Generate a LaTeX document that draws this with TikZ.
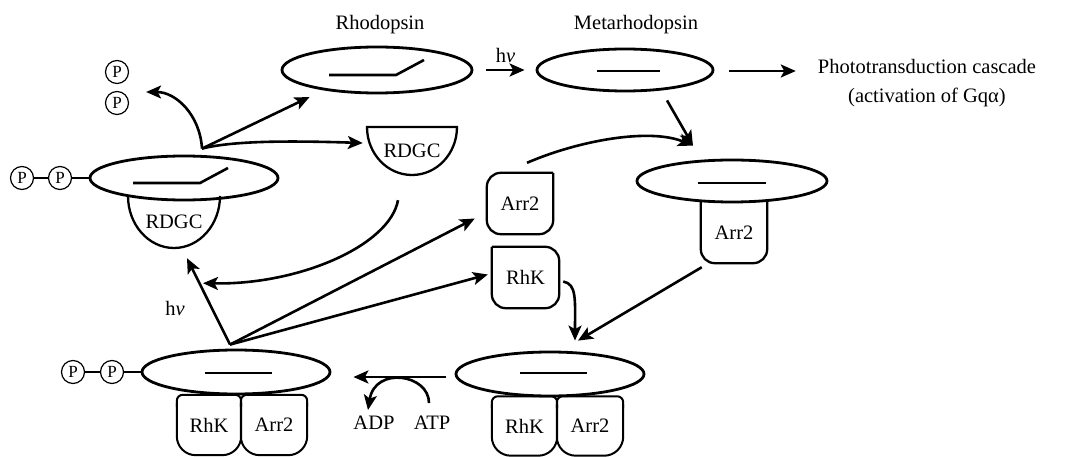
\documentclass[tikz,border=0pt]{standalone}
\usepackage{fontspec}
\setmainfont{Liberation Serif}
\usetikzlibrary{shapes.geometric,arrows.meta,calc}

\tikzset{
  disc/.style={draw, ellipse, line width=2.8pt, minimum width=188pt, minimum height=44pt, inner sep=0pt},
  bead/.style={draw, circle, line width=1.2pt, minimum size=23pt, inner sep=0pt, font=\fontsize{17}{17}\selectfont},
  pbox/.style={minimum width=66pt, minimum height=61pt, inner sep=0pt},
  arr/.style={-{Stealth[length=15pt,width=13pt,inset=3.5pt]}, line width=2.6pt},
  retinal/.style={line width=2.6pt},
  outline/.style={line width=2.3pt},
  tether/.style={line width=1.2pt}
}

\begin{document}
\begin{tikzpicture}[x=1pt, y=-1pt, font=\fontsize{20.5}{29}\selectfont, every node/.append style={inner sep=2pt}]
\useasboundingbox (0,0) rectangle (1085,457);

% Rhodopsin states (discs)
\node[disc, minimum width=190pt, minimum height=46pt] (rho) at (377,70) {};
\node[disc, minimum width=176pt, minimum height=42pt] (meta) at (625,70) {};
\node[disc] (topL) at (184,178) {};
\node[disc, minimum width=190pt, minimum height=42pt] (metaArr) at (732,181) {};
\node[disc] (botR) at (550,374) {};
\node[disc] (botL) at (236,372) {};

% Chromophores
\draw[retinal] ($(rho)+(-48,5)$) -- ++(67,0) -- ++(28,-15);
\draw[retinal] ($(topL)+(-51,5)$) -- ++(67,0) -- ++(28,-15);
\draw[retinal] ($(meta)+(-28,1)$) -- ++(63,0);
\draw[retinal] ($(metaArr)+(-34,2)$) -- ++(68,0);
\draw[retinal] ($(botR)+(-30,-1)$) -- ++(67,0);
\draw[retinal] ($(botL)+(-31,1)$) -- ++(67,0);

% Titles
\node (rhoLbl) at (380,25) {Rhodopsin};
\node (metaLbl) at (636,25) {Metarhodopsin};
\node[align=center] (casc) at (927,83) {Phototransduction cascade\\(activation of Gqα)};

% RDGC
\node[minimum width=92pt, minimum height=52pt, inner sep=0pt] (rdgcL) at (174,222) {RDGC};
\draw[outline] (128,196) arc[start angle=180, end angle=0, x radius=46, y radius=52];
\node[minimum width=90pt, minimum height=48pt, inner sep=0pt] (rdgcF) at (412,151) {RDGC};
\draw[outline] (457,127) arc[start angle=0, end angle=180, x radius=45, y radius=48] -- cycle;

% Phosphates
\node[bead] (p1) at (22,178) {P};
\node[bead] (p2) at (60,178) {P};
\draw[tether] (p1) -- (p2) (p2) -- (topL.west);
\node[bead] (p3) at (73,372) {P};
\node[bead] (p4) at (112,372) {P};
\draw[tether] (p3) -- (p4) (p4) -- (botL.west);
\node[bead] (p5) at (117,72) {P};
\node[bead] (p6) at (117,103) {P};

% Arrestin and kinase
\node[pbox] (arrF) at (520,203.5) {Arr2};
\draw[outline, rounded corners=14pt] (arrF.north east) -- (arrF.south east) -- (arrF.south west) -- (arrF.north west) -- (arrF.north east);
\node[pbox, minimum width=67pt] (rhkF) at (525.5,277.5) {RhK};
\draw[outline, rounded corners=14pt] (rhkF.north west) -- (rhkF.north east) -- (rhkF.south east) -- (rhkF.south west) -- (rhkF.north west);
\node[pbox] (arrM) at (734,232.5) {Arr2};
\draw[outline, rounded corners=14pt] (arrM.north west) -- (arrM.south west) -- (arrM.south east) -- (arrM.north east);

\node[pbox, minimum width=65pt, minimum height=59pt] (rhkR) at (524.5,426) {RhK};
\node[pbox, minimum height=59pt] (arrR) at (590,426) {Arr2};
\node[pbox, minimum width=64pt, minimum height=60pt] (rhkL) at (209,425) {RhK};
\node[pbox, minimum height=60pt] (arrL) at (274,425) {Arr2};
\foreach \b in {rhkR,arrR,rhkL,arrL}{
  \draw[line width=2pt, rounded corners=19pt] ($(\b.north west)+(0,8)$) -- (\b.south west) -- (\b.south east) -- ($(\b.north east)+(0,8)$);
  \draw[line width=2pt, rounded corners=6pt] ($(\b.north west)+(0,12)$) -- (\b.north west) -- (\b.north east) -- ($(\b.north east)+(0,12)$);
}

% Light and cascade
\draw[arr] ($(rho.east)+(13,0)$) -- node[above=4pt] (hv1) {h{\itshape ν}} ($(meta.west)+(-11,0)$);
\draw[arr] ($(meta.east)+(15,1)$) -- ($(casc.west)+(-20,-12)$);

% Binding of arrestin
\coordinate (mj) at ($(metaArr.north)+(-39,-13)$);
\draw[arr] ($(meta.south)+(42,8)$) -- (mj);
\draw[arr] ($(arrF.north)+(7,-10)$) .. controls (580,140) and (650,128) .. (mj);

% Kinase recruitment
\coordinate (bj) at ($(botR.north)+(28,-10)$);
\draw[arr] ($(arrM.south west)+(1,4)$) -- (bj);
\draw[arr] ($(rhkF.east)+(4,4)$) .. controls (577,284) and (575,300) .. ($(bj)+(-3,0)$);

% Phosphorylation
\node (adp) at (374,423) {ADP};
\node (atp) at (432,423) {ATP};
\draw[arr] ($(botR.west)+(-9,3)$) -- ($(botL.east)+(22,5)$);
\draw[arr] ($(atp.north)+(-3,-11)$) .. controls (429,374) and (375,366) .. ($(adp.north)+(-6,-4)$);

% Photoreconversion
\coordinate (bp) at ($(botL.north)+(-6,-4)$);
\node (hv2) at (175,308) {h{\itshape ν}};
\draw[arr] (bp) -- ($(rdgcL.south)+(13,10)$);
\draw[arr] (bp) -- ($(arrF.west)+(-12,15)$);
\draw[arr] (bp) -- ($(rhkF.west)+(-4,-3)$);
\draw[arr] ($(rdgcF.south)+(-14,25)$) .. controls (390,245) and (300,285) .. ($(rdgcL.south)+(29,35)$);

% Dephosphorylation
\coordinate (tp) at ($(topL.north)+(18,-6)$);
\coordinate (pe) at ($(p6.east)+(17,-11)$);
\draw[arr] (tp) -- ($(rho.west)+(29,27)$);
\draw[arr] (tp) .. controls (235,140) and (300,141) .. ($(rdgcF.west)+(-4,-8)$);
\draw[arr] (tp) .. controls (200,115) and (176,92) .. (pe);
\end{tikzpicture}
\end{document}
